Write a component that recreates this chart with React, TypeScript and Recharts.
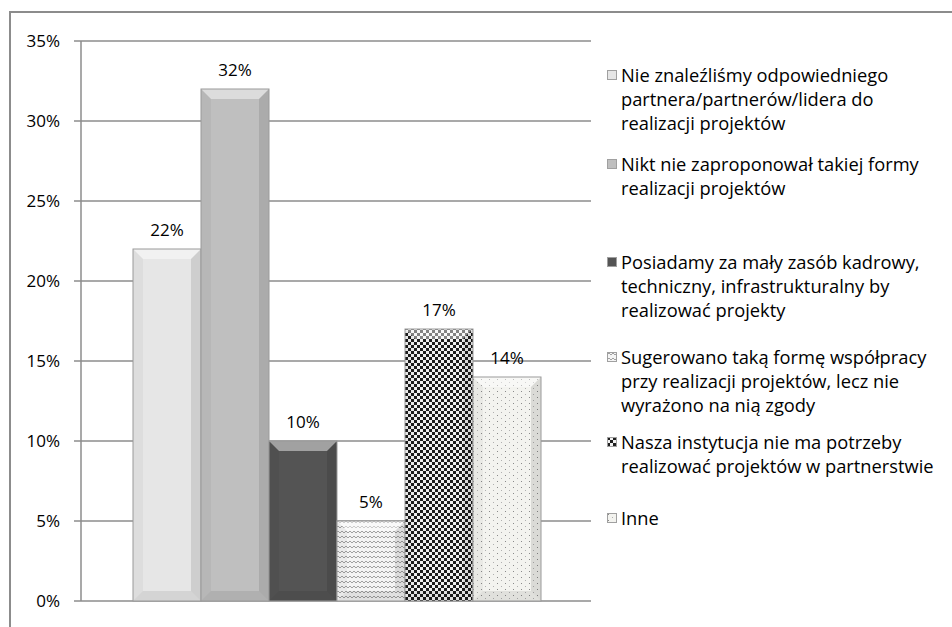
import React from "react";
import { BarChart, Bar, XAxis, YAxis, CartesianGrid, Legend, LabelList } from "recharts";

const categories = [
  "Nie znaleźliśmy odpowiedniego partnera/partnerów/lidera do realizacji projektów",
  "Nikt nie zaproponował takiej formy realizacji projektów",
  "Posiadamy za mały zasób kadrowy, techniczny, infrastrukturalny by realizować projekty",
  "Sugerowano taką formę współpracy przy realizacji projektów, lecz nie wyrażono na nią zgody",
  "Nasza instytucja nie ma potrzeby realizować projektów w partnerstwie",
  "Inne",
];
const values = [22, 32, 10, 5, 17, 14];
const yTicks = [0, 5, 10, 15, 20, 25, 30, 35];

// legend lines as broken in the original
const legendLines = [
  ["Nie znaleźliśmy odpowiedniego", "partnera/partnerów/lidera do", "realizacji projektów"],
  ["Nikt nie zaproponował takiej formy", "realizacji projektów"],
  ["Posiadamy za mały zasób kadrowy,", "techniczny, infrastrukturalny by", "realizować projekty"],
  ["Sugerowano taką formę współpracy", "przy realizacji projektów, lecz nie", "wyrażono na nią zgody"],
  ["Nasza instytucja nie ma potrzeby", "realizować projektów w partnerstwie"],
  ["Inne"],
];

const keys = values.map((_, i) => `s${i}`);
const row: Record<string, number | string> = { name: "all" };
keys.forEach((k, i) => (row[k] = values[i]));
const data = [row];

const fills = ["#e6e6e6", "#bfbfbf", "#545454", "url(#pWave)", "url(#pCheck)", "url(#pDots)"];
const legendTops = [63, 152, 250, 345, 430, 506];
const FONT = "'Open Sans', 'Noto Sans', sans-serif";

function Bevel(props: any) {
  const { x, y, width: w, height: h, fill } = props;
  if (!h || h <= 0) return null;
  const b = Math.min(10, h / 2);
  return (
    <g>
      <rect x={x} y={y} width={w} height={h} fill={fill} />
      <polygon points={`${x},${y} ${x + w},${y} ${x + w - b},${y + b} ${x + b},${y + b}`} fill="#fff" fillOpacity={0.45} />
      <polygon points={`${x},${y + h} ${x + w},${y + h} ${x + w - b},${y + h - b} ${x + b},${y + h - b}`} fill="#000" fillOpacity={0.08} />
      <polygon points={`${x},${y} ${x + b},${y + b} ${x + b},${y + h - b} ${x},${y + h}`} fill="#000" fillOpacity={0.04} />
      <polygon points={`${x + w},${y} ${x + w - b},${y + b} ${x + w - b},${y + h - b} ${x + w},${y + h}`} fill="#000" fillOpacity={0.1} />
      <rect x={x} y={y} width={w} height={h} fill="none" stroke="#9a9a9a" strokeWidth={1} />
    </g>
  );
}

function Patterns() {
  return (
    <defs>
      <pattern id="pWave" width="8" height="5" patternUnits="userSpaceOnUse">
        <rect width="8" height="5" fill="#f4f4f4" />
        <path d="M0,3 L2,1 L4,3 L6,1 L8,3" fill="none" stroke="#a0a0a0" strokeWidth="1" />
      </pattern>
      <pattern id="pCheck" width="6" height="6" patternUnits="userSpaceOnUse">
        <rect width="6" height="6" fill="#f2f2f2" />
        <rect x="0" y="0" width="3" height="3" fill="#1e1e1e" />
        <rect x="3" y="3" width="3" height="3" fill="#1e1e1e" />
      </pattern>
      <pattern id="pDots" width="8" height="6" patternUnits="userSpaceOnUse">
        <rect width="8" height="6" fill="#f3f3ef" />
        <rect x="1" y="1" width="1" height="1" fill="#8a8a8a" />
        <rect x="5" y="4" width="1" height="1" fill="#b0b0b0" />
      </pattern>
    </defs>
  );
}

function LegendBox() {
  return (
    <div style={{ position: "relative", width: 340, height: 560, fontFamily: FONT, fontSize: 18.3, color: "#000" }}>
      {legendLines.map((lines, i) => (
        <div key={i} style={{ position: "absolute", left: 0, top: legendTops[i] - 12 }}>
          <svg width={12} height={12} style={{ position: "absolute", left: 1, top: 7 }}>
            <Patterns />
            <rect x={0.5} y={0.5} width={9} height={9} fill={fills[i]} stroke="#a0a0a0" />
          </svg>
          <div style={{ position: "absolute", left: 15, top: 0, lineHeight: "24px", whiteSpace: "nowrap" }}>
            {lines.map((l, j) => (
              <div key={j}>{l}</div>
            ))}
          </div>
        </div>
      ))}
    </div>
  );
}

export default function App() {
  return (
    <div style={{ position: "absolute", left: 0, top: 0, width: 952, height: 627, overflow: "hidden", background: "#fff" }}>
      <div
        style={{
          position: "absolute",
          left: 9,
          top: 11,
          width: 1000,
          height: 700,
          borderLeft: "2px solid #8c8c8c",
          borderTop: "2px solid #8c8c8c",
        }}
      />
      <div style={{ position: "absolute", left: 0, top: 0 }}>
        <BarChart
          width={952}
          height={627}
          data={data}
          margin={{ top: 41, right: 361, bottom: 6, left: 0 }}
          barGap={0}
          barCategoryGap={52}
        >
          <Patterns />
          <CartesianGrid vertical={false} stroke="#8c8c8c" strokeWidth={1.5} />
          <XAxis dataKey="name" hide />
          <XAxis
            xAxisId="edge"
            type="number"
            domain={[0, 1]}
            ticks={[0, 1]}
            tick={false}
            height={20}
            axisLine={{ stroke: "#8c8c8c", strokeWidth: 1.5 }}
            tickLine={{ stroke: "#8c8c8c", strokeWidth: 1.5 }}
            tickSize={7}
          />
          <YAxis
            domain={[0, 35]}
            ticks={yTicks}
            width={81}
            tickSize={7}
            tickMargin={14}
            tickFormatter={(v: number) => `${v}%`}
            tick={{ fill: "#000", fontSize: 17, fontFamily: FONT }}
            axisLine={{ stroke: "#8c8c8c", strokeWidth: 1.5 }}
            tickLine={{ stroke: "#8c8c8c", strokeWidth: 1.5 }}
            interval={0}
          />
          <Legend
            layout="vertical"
            align="center"
            verticalAlign="middle"
            wrapperStyle={{ left: 606, top: 12, width: 346, height: 560 }}
            content={() => <LegendBox />}
          />
          {keys.map((k, i) => (
            <Bar key={k} dataKey={k} name={categories[i]} fill={fills[i]} shape={Bevel} isAnimationActive={false}>
              <LabelList
                dataKey={k}
                position="top"
                offset={13}
                formatter={(v: any) => `${v}%`}
                style={{ fill: "#000", fontSize: 17, fontFamily: FONT }}
              />
            </Bar>
          ))}
        </BarChart>
      </div>
    </div>
  );
}
